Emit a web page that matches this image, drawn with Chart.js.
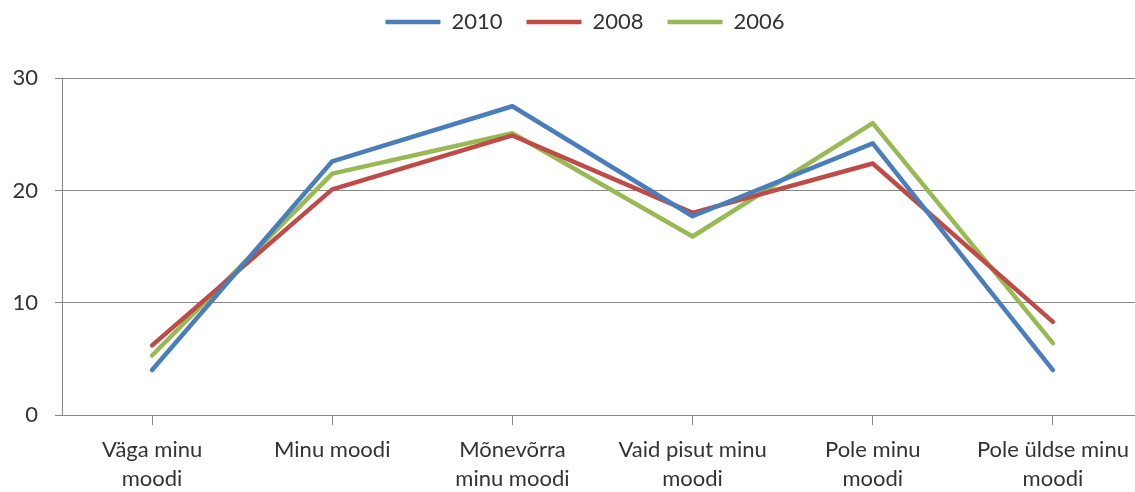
<!DOCTYPE html>
<html>
<head>
<meta charset="utf-8">
<script src="https://cdn.jsdelivr.net/npm/chart.js@4/dist/chart.umd.min.js"></script>
<style>
html,body{margin:0;padding:0;overflow:hidden;background:#fff;width:1135px;height:492px;}
#wrap{width:1170px;height:492px;}
</style>
</head>
<body>
<div id="wrap"><canvas id="c" width="1170" height="492"></canvas></div>
<script>
const categories = [["Väga minu","moodi"],"Minu moodi",["Mõnevõrra","minu moodi"],["Vaid pisut minu","moodi"],["Pole minu","moodi"],["Pole üldse minu","moodi"]];
const seriesNames = ["2010","2008","2006"];
const values2010 = [4.0, 22.6, 27.5, 17.7, 24.2, 4.0];
const values2008 = [6.2, 20.1, 24.9, 18.0, 22.4, 8.3];
const values2006 = [5.3, 21.5, 25.1, 15.9, 26.0, 6.4];
const colors = ["#4A7EBB","#BE4B48","#98B954"];
const yTicks = [0,10,20,30];

const font = {family:"Lato, 'Open Sans', sans-serif", size:22};
const xFont = {family:"Lato, 'Open Sans', sans-serif", size:22, lineHeight:1.3};
const textColor = "#333333";
const gridColor = "#868686";

function ds(label, data, color){
  return {label, data, borderColor:color, backgroundColor:color, borderWidth:4.5,
    pointRadius:0, pointHoverRadius:0, tension:0, fill:false,
    borderCapStyle:'round', borderJoinStyle:'round', pointStyle:'line', yAxisID:'y'};
}

new Chart(document.getElementById('c'), {
  type:'line',
  data:{labels:categories, datasets:[
    ds(seriesNames[0], values2010, colors[0]),
    ds(seriesNames[1], values2008, colors[1]),
    ds(seriesNames[2], values2006, colors[2])
  ]},
  options:{
    responsive:false, animation:false,
    layout:{padding:{left:0,right:0,top:-13,bottom:0}},
    plugins:{
      legend:{position:'top', align:'center',
        labels:{usePointStyle:true, pointStyle:'line', pointStyleWidth:55, font, color:textColor, padding:24}},
      subtitle:{display:true, text:' ', position:'top', weight:500, font:{size:1}, padding:{top:17,bottom:17}},
      tooltip:{enabled:false}
    },
    scales:{
      x:{offset:true,
        grid:{drawOnChartArea:false, drawTicks:true, tickLength:10, color:gridColor},
        border:{display:true, color:gridColor},
        ticks:{font:xFont, color:textColor, maxRotation:0, autoSkip:false, padding:11},
        afterFit:(s)=>{s.height=77;}
      },
      y:{min:0, max:30, position:'left',
        afterBuildTicks:(s)=>{s.ticks = yTicks.map(v=>({value:v}));},
        grid:{color:gridColor, tickLength:7, drawTicks:true},
        border:{display:true, color:gridColor},
        ticks:{font, color:textColor, padding:17},
        afterFit:(s)=>{s.width=62;}
      },
      yRight:{type:'linear', position:'right', min:0, max:30, display:true,
        grid:{display:false, drawOnChartArea:false, drawTicks:false},
        border:{display:false},
        ticks:{display:false},
        afterFit:(s)=>{s.width=27;}
      }
    }
  }
});
</script>
</body>
</html>
